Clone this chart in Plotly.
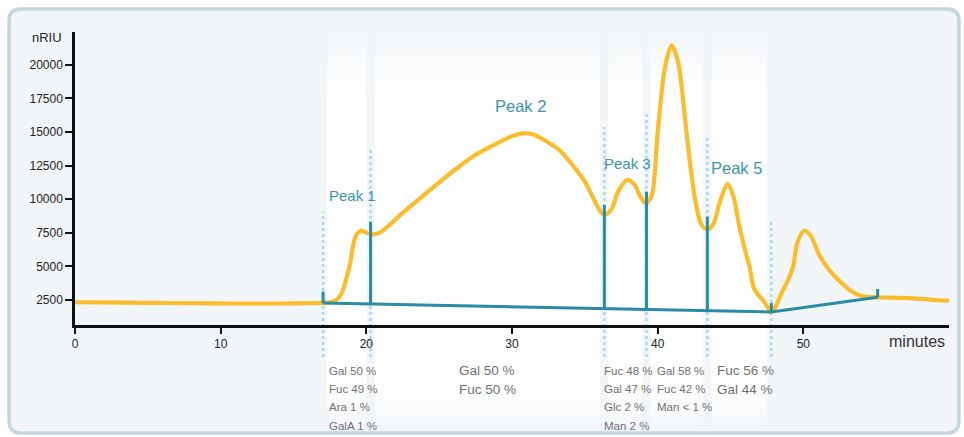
import numpy as np
import plotly.graph_objects as go

# ---------------- data ----------------
# refractive-index detector trace (minutes, nRIU)
time_min = [0.0, 2.0, 5.0, 8.0, 11.0, 14.0, 16.0, 17.0, 17.6, 18.0, 18.3, 18.6, 18.9, 19.1,
            19.35, 19.65, 20.0, 20.4, 20.9, 21.5, 22.3, 23.0, 24.0, 25.0, 26.4, 27.5, 28.7,
            29.8, 30.7, 31.5, 32.3, 33.3, 34.4, 35.0, 35.55, 36.0, 36.35, 36.8, 37.3, 37.9,
            38.4, 38.8, 39.2, 39.6, 40.0, 40.5, 40.95, 41.4, 41.96, 42.3, 42.6, 43.0, 43.4,
            43.8, 44.3, 44.8, 45.2, 45.6, 46.0, 46.3, 46.6, 47.0, 47.3, 47.8, 48.1, 48.5,
            49.0, 49.3, 49.6, 50.05, 50.5, 51.1, 51.8, 52.5, 53.3, 54.0, 55.0, 56.0, 57.0,
            58.2, 59.2, 60.0]
signal = [2330, 2320, 2290, 2260, 2240, 2240, 2260, 2290, 2350, 2550, 3000, 4000, 5300, 6600,
          7400, 7650, 7500, 7380, 7500, 8000, 8800, 9450, 10350, 11250, 12450, 13300, 14000,
          14600, 14900, 14800, 14350, 13600, 12200, 11300, 10150, 9200, 8850, 9200, 10600, 11430,
          11100, 10200, 9700, 10300, 15000, 19800, 21450, 20200, 15150, 12000, 9800, 8100, 7750,
          8100, 9900, 11130, 10200, 8000, 6200, 5000, 3400, 2750, 2400, 1600, 2000, 3000,
          4100, 5000, 6800, 7650, 7300, 5830, 4700, 3900, 3150, 2800, 2700, 2680, 2640,
          2580, 2480, 2450]

# integration baseline and fraction cut points
baseline_t = [17.03, 47.8, 55.1]
baseline_v = [2280, 1610, 2700]
cut_t = [17.03, 20.29, 36.34, 39.23, 43.41, 47.8]
drop_t = [17.03, 20.29, 36.34, 39.23, 43.41, 47.8, 55.1]
drop_top = [3120, 8330, 9570, 10560, 8700, 2270, 3320]
cut_guide_top = [9050, 13810, 15370, 16410, 14550, 8300]

# peak labels
peak_names = ["Peak 1", "Peak 2", "Peak 3", "Peak 4", "Peak 5"]
peak_label_t = [19.08, 30.6, 37.9, 41.05, 45.4]
peak_label_v = [10310, 16930, 12690, 22590, 12320]
peak_label_size = [15, 16.5, 15, 16.5, 16.5]

# monosaccharide composition of each fraction
comp_left_t = [17.32, 26.2, 36.16, 39.82, 43.94]
compositions = [
    ["Gal 50 %", "Fuc 49 %", "Ara 1 %", "GalA 1 %"],
    ["Gal 50 %", "Fuc 50 %"],
    ["Fuc 48 %", "Gal 47 %", "Glc 2 %", "Man 2 %"],
    ["Gal 58 %", "Fuc 42 %", "Man &lt; 1 %"],
    ["Fuc 56 %", "Gal 44 %"],
]
comp_size = [11.5, 13.5, 11.5, 11.5, 13.5]

x_ticks = [0, 10, 20, 30, 40, 50]
y_ticks = [2500, 5000, 7500, 10000, 12500, 15000, 17500, 20000]

# ---------------- geometry ----------------
W, H = 964, 437
ML, MR, MT, MB = 75, 15, 32, 112
PW, PH = W - ML - MR, H - MT - MB
X_RANGE = [0, 60]
Y_RANGE = [639, 22440]

YELLOW = "#fbbc2e"
TEAL = "#2b8aa5"
GUIDE = "#a6daf2"
PANEL = "#f2f6f9"
BORDER = "#c4d7e1"
FONT = "Liberation Sans, Arial"


def px_x(p):
    return (p - ML) / PW


def px_y(p):
    return (H - MB - p) / PH


def val_y(v):
    return (v - Y_RANGE[0]) / (Y_RANGE[1] - Y_RANGE[0])


shapes = []

# rounded background panel
l, r, t, b, rad = 9, 959, 9, 433, 12
path = (f"M {px_x(l + rad)} {px_y(t)} L {px_x(r - rad)} {px_y(t)} "
        f"Q {px_x(r)} {px_y(t)} {px_x(r)} {px_y(t + rad)} "
        f"L {px_x(r)} {px_y(b - rad)} Q {px_x(r)} {px_y(b)} {px_x(r - rad)} {px_y(b)} "
        f"L {px_x(l + rad)} {px_y(b)} Q {px_x(l)} {px_y(b)} {px_x(l)} {px_y(b - rad)} "
        f"L {px_x(l)} {px_y(t + rad)} Q {px_x(l)} {px_y(t)} {px_x(l + rad)} {px_y(t)} Z")
shapes.append(dict(type="path", xref="paper", yref="paper", path=path,
                   fillcolor=PANEL, line=dict(color=BORDER, width=3.5), layer="below"))

# white fraction bands, fading in at the top and out at the bottom
pad = 0.28
top_fade = np.linspace(30, 98, 10)
bot_fade = np.linspace(392, 431, 6)
for a, c in zip(cut_t[:-1], cut_t[1:]):
    x0, x1 = a + pad, c - pad
    for k in range(len(top_fade) - 1):
        shapes.append(dict(type="rect", xref="x", yref="paper", x0=x0, x1=x1,
                           y0=px_y(top_fade[k + 1]), y1=px_y(top_fade[k]),
                           fillcolor="white", opacity=(k + 1) / (len(top_fade) - 1),
                           line=dict(width=0), layer="below"))
    shapes.append(dict(type="rect", xref="x", yref="paper", x0=x0, x1=x1,
                       y0=px_y(bot_fade[0]), y1=px_y(top_fade[-1]),
                       fillcolor="white", line=dict(width=0), layer="below"))
    for k in range(len(bot_fade) - 1):
        shapes.append(dict(type="rect", xref="x", yref="paper", x0=x0, x1=x1,
                           y0=px_y(bot_fade[k + 1]), y1=px_y(bot_fade[k]),
                           fillcolor="white", opacity=1 - (k + 1) / len(bot_fade),
                           line=dict(width=0), layer="below"))

# dotted fraction-cut guides
for ct, gt in zip(cut_t, cut_guide_top):
    shapes.append(dict(type="line", xref="x", yref="paper", x0=ct, x1=ct,
                       y0=px_y(357), y1=val_y(gt),
                       line=dict(color=GUIDE, width=2.5, dash="dot"), layer="below"))

fig = go.Figure()

fig.add_trace(go.Scatter(x=time_min, y=signal, mode="lines",
                         line=dict(color=YELLOW, width=4.2, shape="spline", smoothing=0.8),
                         hoverinfo="skip", showlegend=False))

fig.add_trace(go.Scatter(x=baseline_t, y=baseline_v, mode="lines",
                         line=dict(color=TEAL, width=3), hoverinfo="skip", showlegend=False))

drop_bottom = np.interp(drop_t, baseline_t, baseline_v)
dx, dy = [], []
for tt, b0, tp in zip(drop_t, drop_bottom, drop_top):
    dx += [tt, tt, None]
    dy += [b0, tp, None]
fig.add_trace(go.Scatter(x=dx, y=dy, mode="lines", line=dict(color=TEAL, width=3),
                         hoverinfo="skip", showlegend=False))

annotations = []
for name, pt, pv, fs in zip(peak_names, peak_label_t, peak_label_v, peak_label_size):
    annotations.append(dict(x=pt, y=pv, xref="x", yref="y", text=name, showarrow=False,
                            xanchor="center", yanchor="middle",
                            font=dict(family=FONT, size=fs, color="#3a95ad")))

for lt, rows, fs in zip(comp_left_t, compositions, comp_size):
    for i, row in enumerate(rows):
        annotations.append(dict(x=lt, y=px_y(370.7 + 18.3 * i), xref="x", yref="paper",
                                text=row, showarrow=False, xanchor="left", yanchor="middle",
                                font=dict(family=FONT, size=fs, color="#707070")))

annotations.append(dict(x=px_x(47), y=px_y(38), xref="paper", yref="paper", text="nRIU",
                        showarrow=False, xanchor="center", yanchor="middle",
                        font=dict(family=FONT, size=13, color="#222")))
annotations.append(dict(x=px_x(947), y=px_y(341), xref="paper", yref="paper", text="minutes",
                        showarrow=False, xanchor="right", yanchor="middle",
                        font=dict(family=FONT, size=16, color="#333")))

fig.update_layout(
    width=W, height=H, autosize=False,
    margin=dict(l=ML, r=MR, t=MT, b=MB, pad=0),
    paper_bgcolor="white", plot_bgcolor="rgba(0,0,0,0)",
    shapes=shapes, annotations=annotations, showlegend=False,
    xaxis=dict(range=X_RANGE, tickvals=x_ticks, ticktext=[str(v) for v in x_ticks],
               showgrid=False, zeroline=False,
               showline=True, linecolor="#111", linewidth=2.5,
               ticks="outside", ticklen=6, tickwidth=2, tickcolor="#111",
               tickfont=dict(family=FONT, size=12, color="#222")),
    yaxis=dict(range=Y_RANGE, tickvals=y_ticks, ticktext=[str(v) for v in y_ticks],
               showgrid=False, zeroline=False,
               showline=True, linecolor="#111", linewidth=2.5,
               ticks="outside", ticklen=7, tickwidth=2, tickcolor="#111",
               tickfont=dict(family=FONT, size=12, color="#222")),
)

fig.write_html("out.html")
